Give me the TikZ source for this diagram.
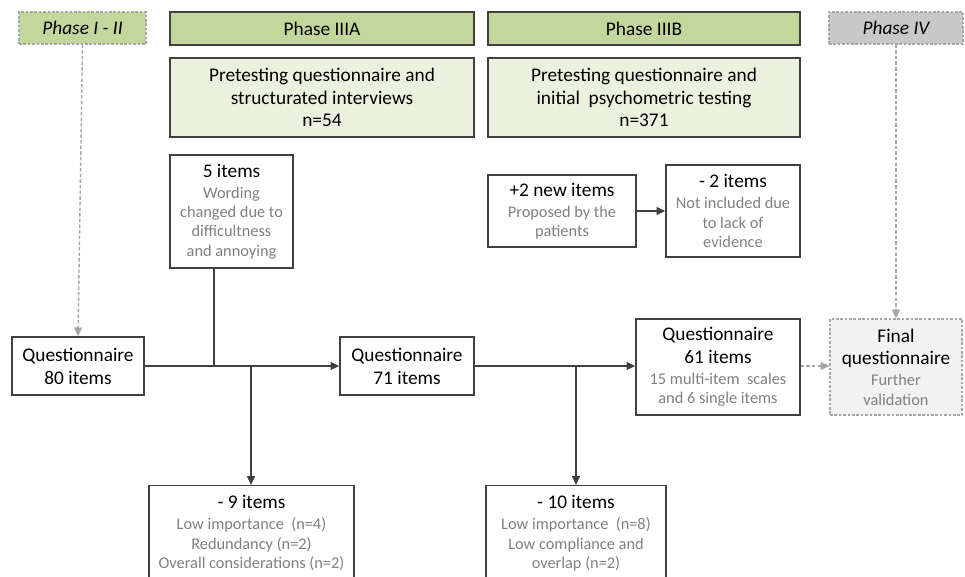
\documentclass[tikz,border=0pt]{standalone}
\usepackage{fontspec}
\setmainfont{Carlito}
\usetikzlibrary{arrows.meta}
\definecolor{phasegreen}{HTML}{C3D69B}
\definecolor{lightgreen}{HTML}{EBF1DE}
\definecolor{phasegray}{HTML}{C8C8C8}
\definecolor{finalgray}{HTML}{F2F2F2}
\definecolor{bordergray}{HTML}{404040}
\definecolor{subgray}{HTML}{808080}
\definecolor{dashgray}{HTML}{A6A6A6}
\newcommand{\gl}[1]{{\color{subgray}\fontsize{9.3}{11}\selectfont #1}}
\tikzset{
  x=0.02cm, y=-0.02cm,
  base/.style={rectangle, align=center, inner sep=2pt, font=\fontsize{11}{13}\selectfont, text=black},
  box/.style={base, draw=bordergray, line width=0.8pt, fill=white},
  phasebox/.style={base, draw=bordergray, line width=0.8pt, fill=phasegreen},
  infobox/.style={base, draw=bordergray, line width=0.8pt, fill=lightgreen},
  dashphase/.style={base, draw=dashgray, dash pattern=on 1.5pt off 1pt, line width=0.6pt, font=\fontsize{11}{13}\selectfont\itshape},
  conn/.style={draw=bordergray, line width=0.7pt},
  arr/.style={conn, -{Triangle[length=5pt,width=4.5pt]}},
  darr/.style={draw=dashgray, line width=0.8pt, dash pattern=on 2pt off 1.2pt, -{Triangle[length=5pt,width=4.5pt]}}
}
\begin{document}
\begin{tikzpicture}
\useasboundingbox[fill=white] (0,0) rectangle (965,577);

% phase headers
\node[dashphase, fill=phasegreen, minimum width=2.54cm, minimum height=0.64cm] (p12) at (82.5,28) {Phase I - II};
\node[phasebox, minimum width=6.08cm, minimum height=0.66cm] (p3a) at (322,28.5) {Phase IIIA};
\node[phasebox, minimum width=6.24cm, minimum height=0.66cm] (p3b) at (644,28.5) {Phase IIIB};
\node[dashphase, fill=phasegray, minimum width=2.68cm, minimum height=0.64cm] (p4) at (896,28) {Phase IV};

% info boxes
\node[infobox, minimum width=6.08cm, minimum height=1.58cm] (infoa) at (322,97.5) {Pretesting questionnaire and\\structurated interviews\\n=54};
\node[infobox, minimum width=6.24cm, minimum height=1.58cm] (infob) at (644,97.5) {Pretesting questionnaire and\\initial\ \ psychometric testing\\n=371};

% side boxes
\node[box, minimum width=2.46cm, minimum height=2.26cm] (five) at (231.5,211.5) {5 items\\[-1pt]\gl{Wording}\\[-2pt]\gl{changed due to}\\[-2pt]\gl{difficultness}\\[-2pt]\gl{and annoying}};
\node[box, minimum width=2.96cm, minimum height=1.44cm] (plus) at (562,211) {+2 new items\\[-1pt]\gl{Proposed by the}\\[-2pt]\gl{patients}};
\node[box, minimum width=2.68cm, minimum height=1.84cm] (minustwo) at (733,211) {- 2 items\\[-1pt]\gl{Not included due}\\[-2pt]\gl{to lack of}\\[-2pt]\gl{evidence}};

% main flow
\node[box, minimum width=2.64cm, minimum height=1.16cm] (q80) at (78,366) {Questionnaire\\80 items};
\node[box, minimum width=2.68cm, minimum height=1.16cm] (q71) at (407,366) {Questionnaire\\71 items};
\node[box, minimum width=3.28cm, minimum height=1.92cm] (q61) at (718,367) {Questionnaire\\61 items\\[-1pt]\gl{15 multi-item\ \ scales}\\[-2pt]\gl{and 6 single items}};
\node[base, draw=dashgray, dash pattern=on 1.5pt off 1pt, line width=0.6pt, fill=finalgray, minimum width=2.64cm, minimum height=1.92cm] (final) at (896,367) {Final\\questionnaire\\[-1pt]\gl{Further}\\[-2pt]\gl{validation}};

% removed items
\node[box, anchor=north, minimum width=4.1cm, minimum height=1.9cm] (minusnine) at (251.5,485) {- 9 items\\[-1pt]\gl{Low importance\ \ (n=4)}\\[-2pt]\gl{Redundancy (n=2)}\\[-2pt]\gl{Overall considerations (n=2)}};
\node[box, anchor=north, minimum width=3.6cm, minimum height=1.9cm] (minusten) at (576,485) {- 10 items\\[-1pt]\gl{Low importance\ \ (n=8)}\\[-2pt]\gl{Low compliance and}\\[-2pt]\gl{overlap (n=2)}};

% helper coordinates
\coordinate (j5) at (214,366);
\coordinate (j9) at (251,366);
\coordinate (j10) at (576,366);

% connectors
\draw[arr] (q80.east) -- (q71.west);
\draw[conn] (five.south -| j5) -- (j5);
\draw[arr] (j9) -- (minusnine.north -| j9);
\draw[arr] (q71.east) -- (q71.east -| q61.west);
\draw[arr] (j10) -- (minusten.north);
\draw[arr] (plus.east) -- (plus.east -| minustwo.west);
\draw[darr] (p12.south) -- (q80.north);
\draw[darr] (p4.south) -- (final.north);
\draw[darr] (q61.east |- q71.east) -- (final.west |- q71.east);
\end{tikzpicture}
\end{document}
